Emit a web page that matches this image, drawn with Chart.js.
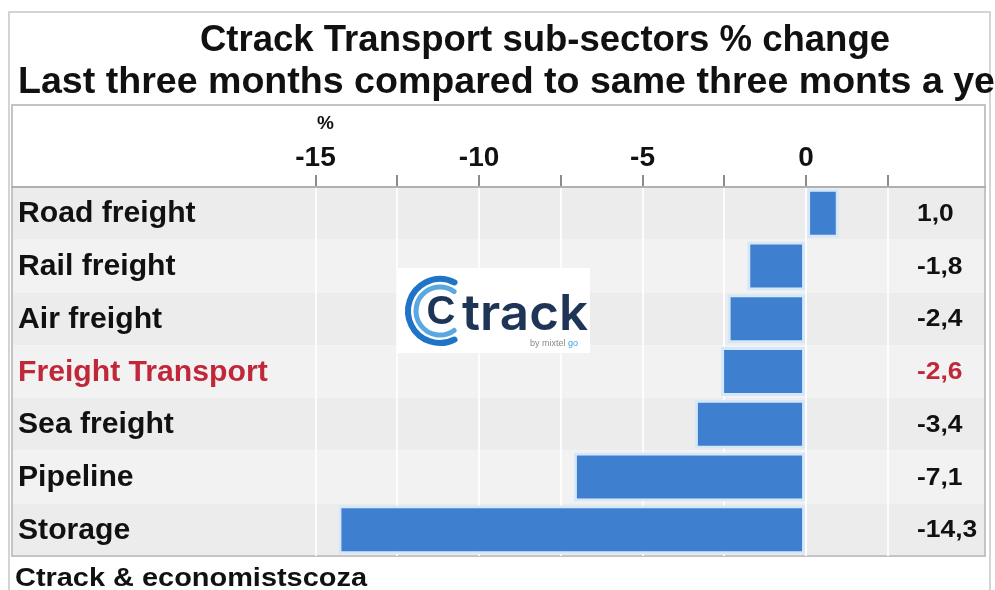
<!DOCTYPE html>
<html>
<head>
<meta charset="utf-8">
<script src="https://cdn.jsdelivr.net/npm/chart.js@4.4.1/dist/chart.umd.min.js"></script>
<style>
  html, body { margin: 0; padding: 0; background: #fff; }
  #wrap { width: 995px; height: 590px; }
</style>
</head>
<body>
<div id="wrap"><canvas id="transportCanvas" width="995" height="590"></canvas></div>
<script>
// data
const sectors = ['Road freight', 'Rail freight', 'Air freight', 'Freight Transport', 'Sea freight', 'Pipeline', 'Storage'];
const changes = [1.0, -1.8, -2.4, -2.6, -3.4, -7.1, -14.3];
const tickValues = [-15, -12.5, -10, -7.5, -5, -2.5, 0, 2.5];
const highlighted = 'Freight Transport';

const titleLine1 = 'Ctrack Transport sub-sectors % change';
const titleLine2 = 'Last three months compared to same three monts a year ago';
const titleLine2Visible = 'Last three months compared to same three monts a ye';
const footerText = 'Ctrack & economistscoza';

const FONT = '"Liberation Sans", Arial, sans-serif';
const RED = '#c0283a';

// draw text with a horizontal scale factor
function drawScaled(ctx, text, x, y, k, align) {
    ctx.save();
    ctx.translate(x, y);
    ctx.scale(k, 1);
    ctx.textAlign = align || 'left';
    ctx.fillText(text, 0, 0);
    ctx.restore();
}

// draw text squeezed/stretched to a given width
function fitText(ctx, text, x, y, width, align) {
    drawScaled(ctx, text, x, y, width / ctx.measureText(text).width, align);
}

const decorPlugin = {
    id: 'decor',
    beforeDraw(chart) {
        const ctx = chart.ctx;
        const area = chart.chartArea;
        const y = chart.scales.y;
        ctx.save();
        ctx.fillStyle = '#fff';
        ctx.fillRect(0, 0, chart.width, chart.height);
        // outer frame
        ctx.strokeStyle = '#d4d4d4';
        ctx.lineWidth = 2;
        ctx.strokeRect(9, 12, 981, 590);
        // row bands
        const step = y.getPixelForValue(1) - y.getPixelForValue(0);
        sectors.forEach((s, i) => {
            const c = y.getPixelForValue(i);
            ctx.fillStyle = i % 2 === 0 ? '#ececec' : '#f2f2f2';
            ctx.fillRect(area.left, c - step / 2, area.right - area.left, step);
        });
        // plot frame
        ctx.strokeStyle = '#c4c4c4';
        ctx.lineWidth = 2;
        ctx.strokeRect(12, 105, 973, area.bottom - 105);
        ctx.restore();
    },
    afterDatasetsDraw(chart) {
        const ctx = chart.ctx;
        const y = chart.scales.y;
        const x = chart.scales.x;
        ctx.save();
        ctx.textBaseline = 'middle';

        // category labels and values
        sectors.forEach((s, i) => {
            const c = y.getPixelForValue(i);
            const txt = changes[i].toFixed(1).replace('.', ',');
            ctx.fillStyle = s === highlighted ? RED : '#111';
            ctx.font = 'bold 29px ' + FONT;
            drawScaled(ctx, s, 18, c + 1, 1.04, 'left');
            ctx.font = 'bold 24px ' + FONT;
            drawScaled(ctx, txt, 917, c + 1, 1.1, 'left');
        });

        // unit label
        ctx.fillStyle = '#111';
        ctx.font = 'bold 19px ' + FONT;
        ctx.textAlign = 'center';
        ctx.fillText('%', x.getPixelForValue(-15) + 10, 124);

        // titles
        ctx.textBaseline = 'alphabetic';
        ctx.font = 'bold 36px ' + FONT;
        fitText(ctx, titleLine1, 545, 51, 690, 'center');
        const k2 = 977 / ctx.measureText(titleLine2Visible).width;
        drawScaled(ctx, titleLine2, 18, 93, k2, 'left');

        // footer
        ctx.font = 'bold 25px ' + FONT;
        fitText(ctx, footerText, 15, 586, 352, 'left');

        // logo box
        ctx.fillStyle = '#fff';
        ctx.fillRect(398, 268, 192, 85);
        ctx.lineCap = 'round';
        ctx.strokeStyle = '#1f74c8';
        ctx.lineWidth = 6;
        ctx.beginPath();
        ctx.arc(440, 311, 32, 0.35 * Math.PI, 1.65 * Math.PI, false);
        ctx.stroke();
        ctx.strokeStyle = '#5aa8e2';
        ctx.lineWidth = 5;
        ctx.beginPath();
        ctx.arc(440, 311, 24, 0.3 * Math.PI, 1.7 * Math.PI, false);
        ctx.stroke();
        ctx.fillStyle = '#1e3556';
        ctx.textAlign = 'center';
        ctx.textBaseline = 'middle';
        ctx.font = 'bold 40px ' + FONT;
        ctx.fillText('C', 441, 313);
        ctx.textAlign = 'left';
        ctx.textBaseline = 'alphabetic';
        ctx.font = '600 50px Inter, ' + FONT;
        fitText(ctx, 'track', 462, 330, 126, 'left');
        ctx.font = '9px ' + FONT;
        ctx.fillStyle = '#8a8a8a';
        ctx.fillText('by mixtel', 530, 346);
        ctx.fillStyle = '#3aa0e0';
        ctx.fillText('go', 568, 346);
        ctx.restore();
    }
};

new Chart(document.getElementById('transportCanvas').getContext('2d'), {
    type: 'bar',
    data: {
        labels: sectors,
        datasets: [{
            data: changes,
            backgroundColor: '#3f7fd0',
            borderColor: '#d4e8fa',
            borderWidth: 3,
            borderSkipped: false,
            barPercentage: 0.93,
            categoryPercentage: 1
        }]
    },
    options: {
        indexAxis: 'y',
        responsive: false,
        animation: false,
        devicePixelRatio: 1,
        layout: { padding: { left: 12, right: 10, top: 105, bottom: 34 } },
        plugins: {
            legend: { display: false },
            tooltip: { enabled: false },
            title: { display: false }
        },
        scales: {
            x: {
                position: 'top',
                min: -24.28,
                max: 5.47,
                afterBuildTicks(scale) {
                    scale.ticks = tickValues.map(v => ({ value: v }));
                },
                afterFit(scale) {
                    scale.height = 82;
                },
                grid: {
                    color: 'rgba(255,255,255,0.85)',
                    lineWidth: 2,
                    tickColor: '#8c8c8c',
                    tickLength: 12,
                    drawOnChartArea: true
                },
                border: { color: '#b0b0b0', width: 2 },
                ticks: {
                    autoSkip: false,
                    maxRotation: 0,
                    padding: 0,
                    color: '#111',
                    font: { family: FONT, size: 28, weight: 'bold' },
                    callback: v => (v % 5 === 0 ? String(v) : '')
                }
            },
            y: {
                display: false
            }
        }
    },
    plugins: [decorPlugin]
});
</script>
</body>
</html>
